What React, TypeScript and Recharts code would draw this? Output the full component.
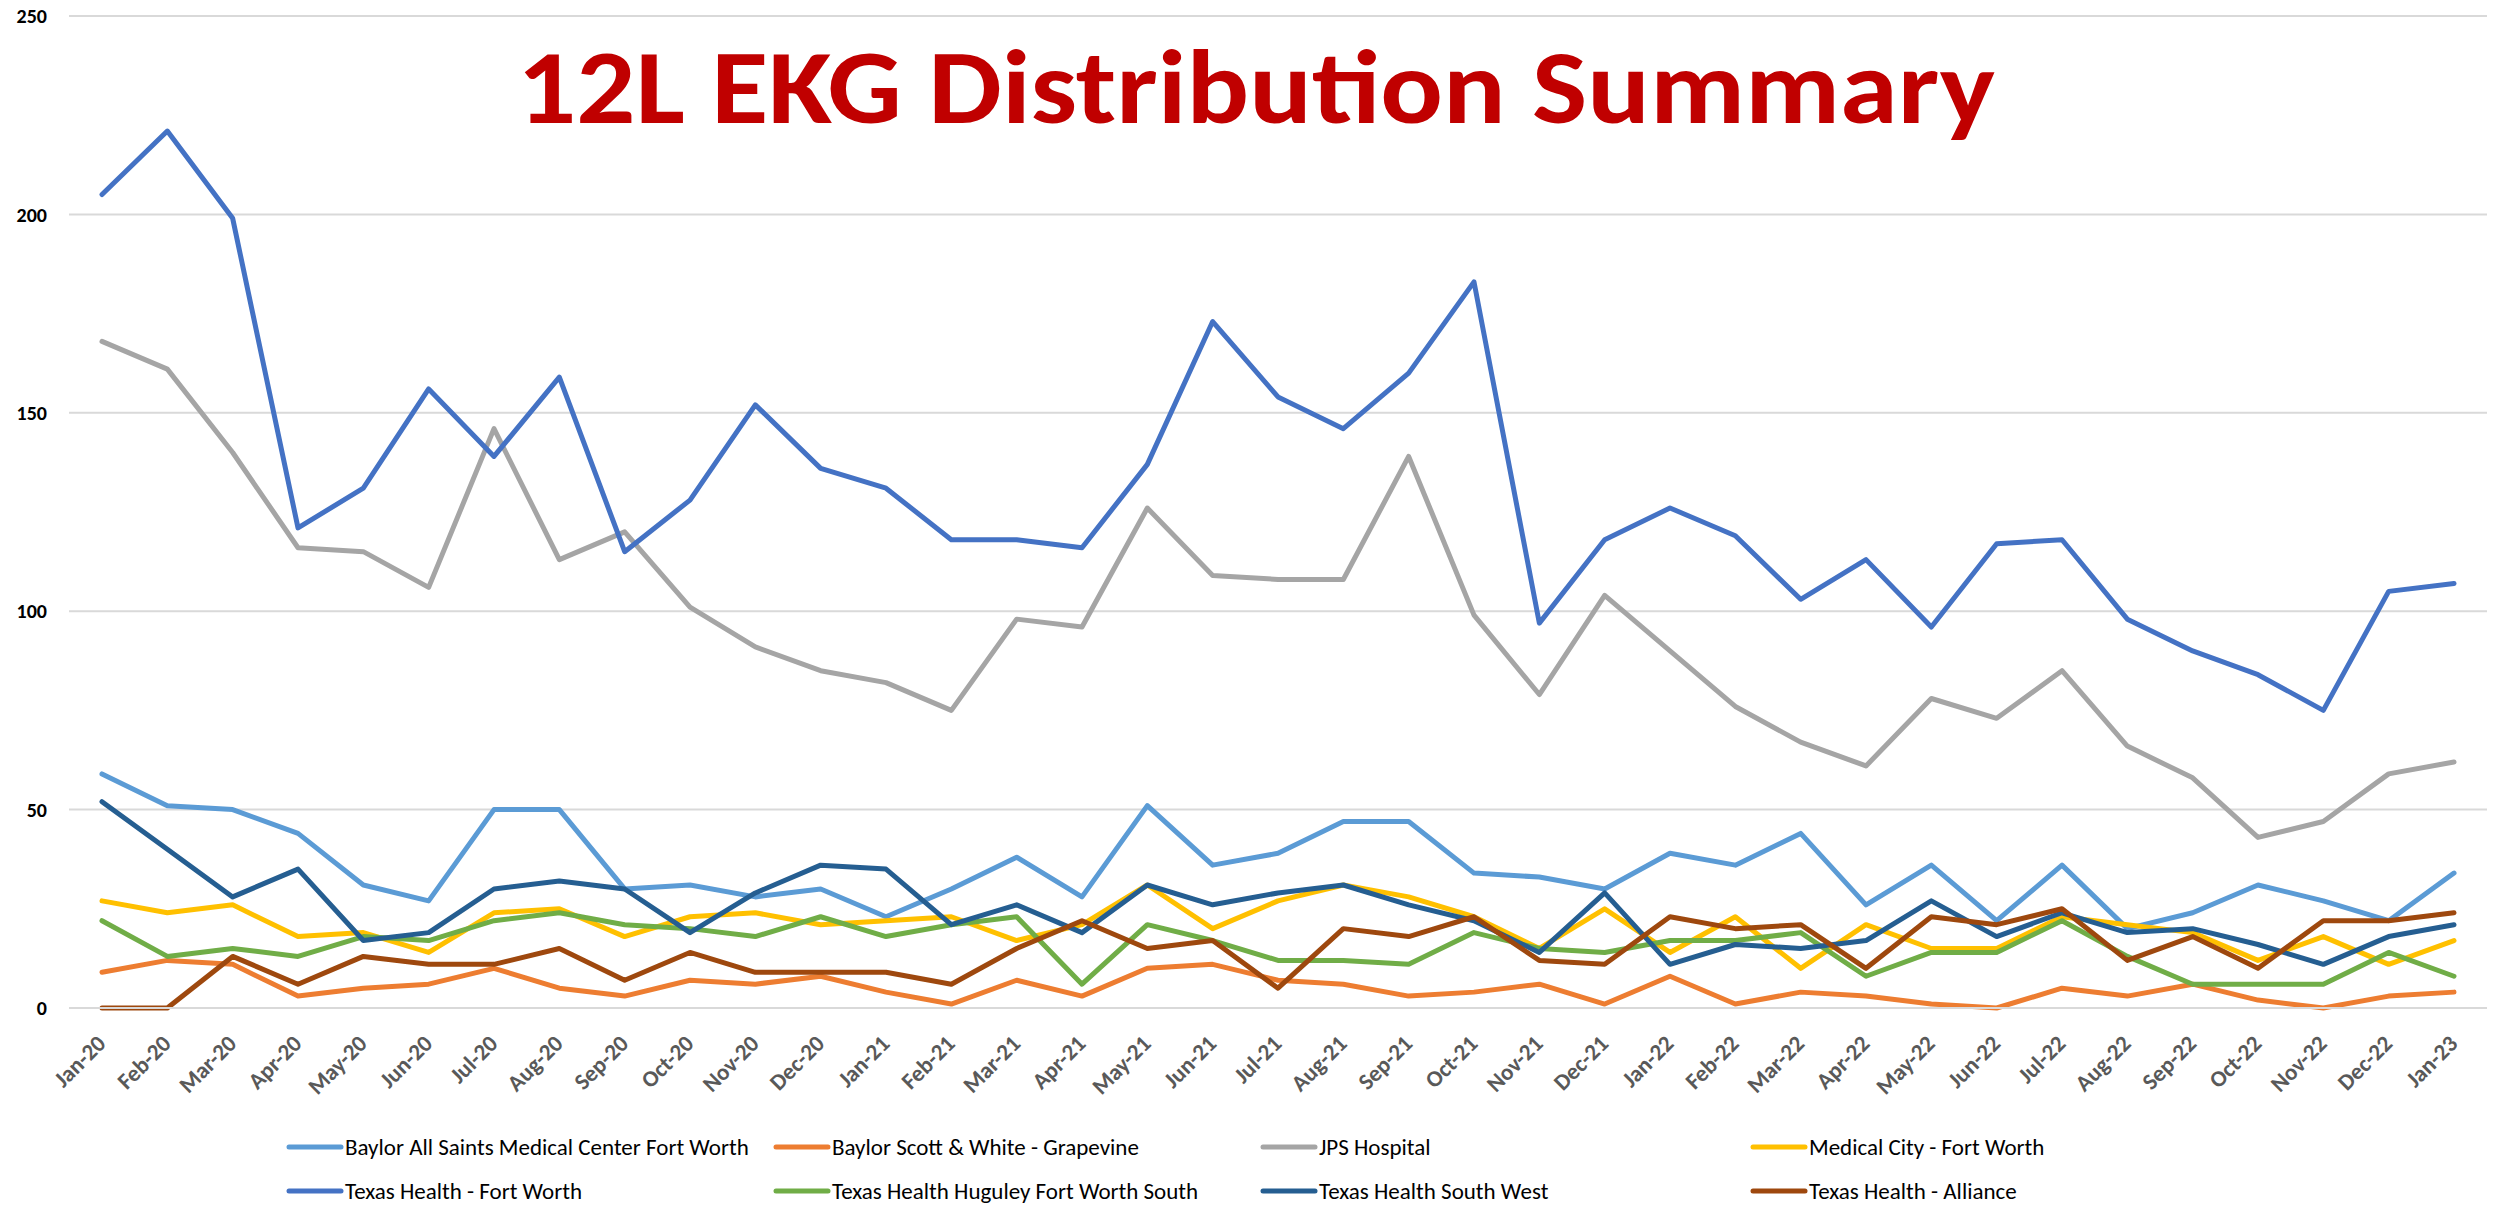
import React from 'react';
import { LineChart, Line, XAxis, YAxis, CartesianGrid, Legend } from 'recharts';

const months = [
  'Jan-20','Feb-20','Mar-20','Apr-20','May-20','Jun-20','Jul-20','Aug-20','Sep-20','Oct-20','Nov-20','Dec-20',
  'Jan-21','Feb-21','Mar-21','Apr-21','May-21','Jun-21','Jul-21','Aug-21','Sep-21','Oct-21','Nov-21','Dec-21',
  'Jan-22','Feb-22','Mar-22','Apr-22','May-22','Jun-22','Jul-22','Aug-22','Sep-22','Oct-22','Nov-22','Dec-22',
  'Jan-23',
];

const baylorAllSaints = [59,51,50,44,31,27,50,50,30,31,28,30, 23,30,38,28,51,36,39,47,47,34,33,30, 39,36,44,26,36,22,36,20,24,31,27,22, 34];
const baylorGrapevine = [9,12,11,3,5,6,10,5,3,7,6,8, 4,1,7,3,10,11,7,6,3,4,6,1, 8,1,4,3,1,0,5,3,6,2,0,3, 4];
const jps = [168,161,140,116,115,106,146,113,120,101,91,85, 82,75,98,96,126,109,108,108,139,99,79,104, 90,76,67,61,78,73,85,66,58,43,47,59, 62];
const medicalCity = [27,24,26,18,19,14,24,25,18,23,24,21, 22,23,17,21,31,20,27,31,28,23,15,25, 14,23,10,21,15,15,23,21,19,12,18,11, 17];
const thFortWorth = [205,221,199,121,131,156,139,159,115,128,152,136, 131,118,118,116,137,173,154,146,160,183,97,118, 126,119,103,113,96,117,118,98,90,84,75,105, 107];
const thHuguley = [22,13,15,13,18,17,22,24,21,20,18,23, 18,21,23,6,21,17,12,12,11,19,15,14, 17,17,19,8,14,14,22,13,6,6,6,14, 8];
const thSouthWest = [52,40,28,35,17,19,30,32,30,19,29,36, 35,21,26,19,31,26,29,31,26,22,14,29, 11,16,15,17,27,18,24,19,20,16,11,18, 21];
const thAlliance = [0,0,13,6,13,11,11,15,7,14,9,9, 9,6,15,22,15,17,5,20,18,23,12,11, 23,20,21,10,23,21,25,12,18,10,22,22, 24];

const yTicks = [0, 50, 100, 150, 200, 250];

const seriesDefs = [
  { key: 'baylorAllSaints', name: 'Baylor All Saints Medical Center Fort Worth', color: '#5B9BD5', values: baylorAllSaints },
  { key: 'baylorGrapevine', name: 'Baylor Scott & White - Grapevine', color: '#ED7D31', values: baylorGrapevine },
  { key: 'jps', name: 'JPS Hospital', color: '#A5A5A5', values: jps },
  { key: 'medicalCity', name: 'Medical City - Fort Worth', color: '#FFC000', values: medicalCity },
  { key: 'thFortWorth', name: 'Texas Health - Fort Worth', color: '#4472C4', values: thFortWorth },
  { key: 'thHuguley', name: 'Texas Health Huguley Fort Worth South', color: '#70AD47', values: thHuguley },
  { key: 'thSouthWest', name: 'Texas Health South West', color: '#255E91', values: thSouthWest },
  { key: 'thAlliance', name: 'Texas Health - Alliance', color: '#9E480E', values: thAlliance },
];

const data = months.map((m, i) => {
  const row: any = { month: m };
  seriesDefs.forEach((s) => { row[s.key] = s.values[i]; });
  return row;
});

const FONT = 'Carlito, Calibri, Lato, sans-serif';

const XTick = (props: any) => {
  const { x, y, payload } = props;
  const tx = x + 5;
  const ty = y + 37;
  return (
    <text x={tx} y={ty} transform={`rotate(-45, ${tx}, ${ty})`} textAnchor="end"
      fill="#595959" fontSize={23} fontWeight={700} fontFamily={FONT}>
      {payload.value}
    </text>
  );
};

const colX = [286, 773, 1260, 1750];
const rowY = [22, 66];

const LegendContent = () => (
  <div style={{ position: 'relative', width: 2501, height: 80 }}>
    {seriesDefs.map((s, i) => {
      const c = i % 4;
      const r = Math.floor(i / 4);
      return (
        <div key={s.key} style={{ position: 'absolute', left: colX[c], top: rowY[r] - 20, height: 40, display: 'flex', alignItems: 'center', whiteSpace: 'nowrap' }}>
          <svg width={58} height={10} style={{ display: 'block' }}>
            <line x1={3} y1={5} x2={55} y2={5} stroke={s.color} strokeWidth={5} strokeLinecap="round" />
          </svg>
          <span style={{ fontFamily: FONT, fontSize: 23, color: '#000', marginLeft: 1 }}>{s.name}</span>
        </div>
      );
    })}
  </div>
);

export default function App() {
  return (
    <div style={{ position: 'absolute', left: 0, top: 0, width: 2501, height: 1206, background: '#fff' }}>
      <LineChart width={2501} height={1206} data={data} margin={{ top: 16, right: 14, left: 0, bottom: 1 }}>
        <CartesianGrid vertical={false} stroke="#D9D9D9" strokeWidth={2} />
        <XAxis dataKey="month" interval={0} tick={<XTick />} tickLine={false} tickSize={0} tickMargin={0}
          axisLine={{ stroke: '#D9D9D9', strokeWidth: 2 }} height={117} padding={{ left: 33, right: 33 }} />
        <YAxis domain={[0, 250]} ticks={yTicks} width={69} axisLine={false} tickLine={false} tickSize={0} tickMargin={22}
          tick={{ fill: '#000', fontSize: 20, fontWeight: 700, fontFamily: FONT }} />
        <Legend verticalAlign="bottom" wrapperStyle={{ left: 0, width: 2501 }} content={<LegendContent />} />
        {seriesDefs.map((s) => (
          <Line key={s.key} type="linear" dataKey={s.key} name={s.name} stroke={s.color} strokeWidth={5}
            dot={false} activeDot={false} isAnimationActive={false} strokeLinejoin="round" strokeLinecap="round" />
        ))}
      </LineChart>
      <svg width={2501} height={170} style={{ position: 'absolute', left: 0, top: 0, pointerEvents: 'none' }}>
        <text x={517} y={123} fontSize={106} fontWeight={900} fill="#C00000" fontFamily={FONT}
          textLength={1478} lengthAdjust="spacingAndGlyphs">12L EKG Distribution Summary</text>
      </svg>
    </div>
  );
}
